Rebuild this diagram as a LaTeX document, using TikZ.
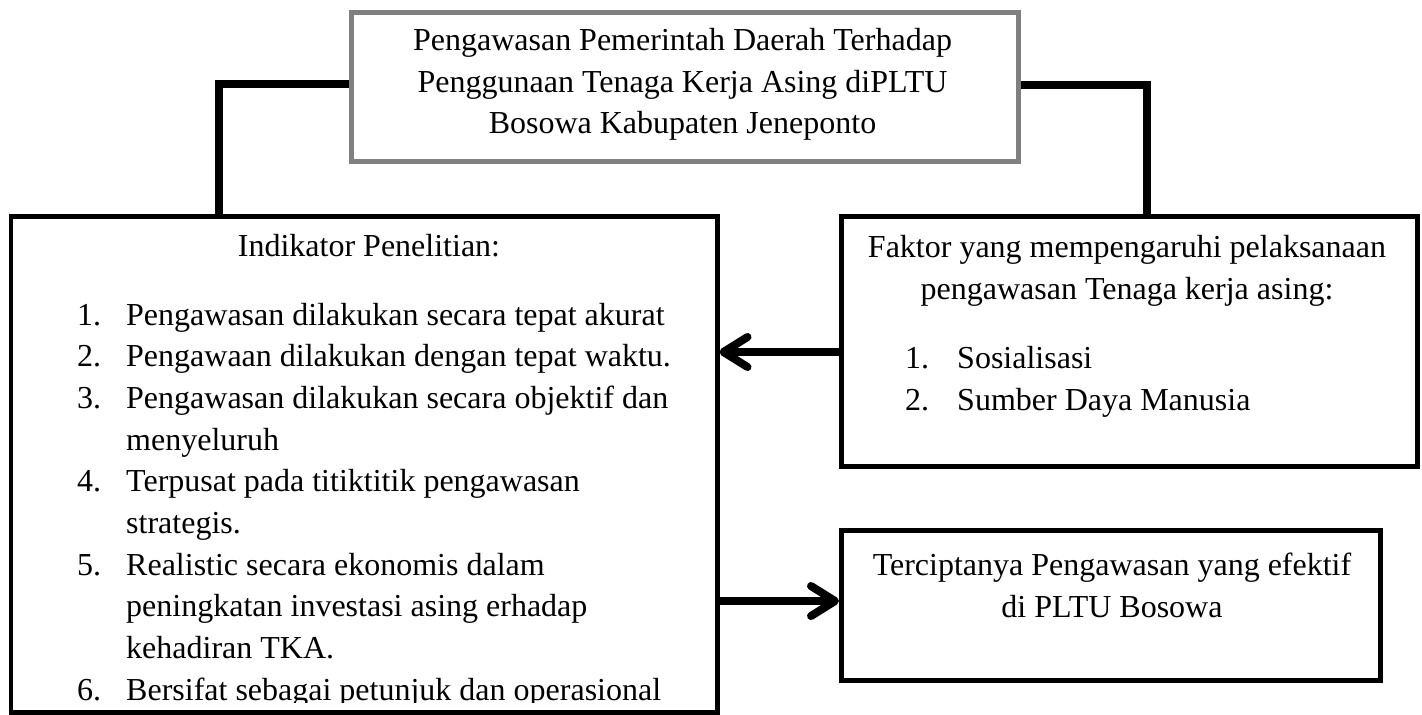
\documentclass[tikz,border=0pt]{standalone}
\usepackage{fontspec}
\setmainfont{Liberation Serif}
\usetikzlibrary{arrows.meta}
\definecolor{boxgray}{RGB}{128,128,128}
\begin{document}
\begin{tikzpicture}[x=1pt,y=-1pt,
  box/.style={draw=black, line width=4.5pt, inner sep=0pt, anchor=north west},
  titlebox/.style={draw=boxgray, line width=4.5pt, inner sep=0pt, anchor=north west},
  txt/.style={inner sep=0pt, font=\fontsize{32}{41.7}\selectfont},
  conn/.style={line width=8pt},
  arr/.style={line width=8pt, -{Straight Barb[length=24pt,width=30pt,round]}}
]
\useasboundingbox (0,0) rectangle (1422,715);
\fill[white] (0,0) rectangle (1422,715);

% boxes
\node[titlebox, minimum width=667pt, minimum height=149pt] (top) at (349,10) {};
\node[box, minimum width=706.5pt, minimum height=496pt] (ind) at (8.5,214) {};
\node[box, minimum width=576pt, minimum height=250pt] (fak) at (839,214) {};
\node[box, minimum width=539pt, minimum height=150pt] (res) at (839,528) {};

% title text
\node[txt, anchor=base] (t1) at (682.5,50.5) {Pengawasan Pemerintah Daerah Terhadap};
\node[txt, anchor=base] (t2) at (682.5,92.2) {Penggunaan Tenaga Kerja Asing diPLTU};
\node[txt, anchor=base] (t3) at (682.5,133.9) {Bosowa Kabupaten Jeneponto};

% left box text
\node[txt, anchor=base] (ih) at (369,256) {Indikator Penelitian:};
\begin{scope}
\clip (8.5,214) rectangle (715,702);
\foreach \t [count=\i from 0] in {
  Pengawasan dilakukan secara tepat akurat,
  Pengawaan dilakukan dengan tepat waktu.,
  Pengawasan dilakukan secara objektif dan,
  menyeluruh,
  Terpusat pada titiktitik pengawasan,
  strategis.,
  Realistic secara ekonomis dalam,
  peningkatan investasi asing erhadap,
  kehadiran TKA.,
  Bersifat sebagai petunjuk dan operasional}
  \node[txt, anchor=base west] (L\i) at (126,325+41.7*\i) {\t};
\foreach \n/\k in {1/0,2/1,3/2,4/4,5/6,6/9}
  \node[txt, anchor=base west] (N\n) at (77,325+41.7*\k) {\n.};
\end{scope}

% right box text
\node[txt, anchor=base] (f1) at (1127,257) {Faktor yang mempengaruhi pelaksanaan};
\node[txt, anchor=base] (f2) at (1127,299) {pengawasan Tenaga kerja asing:};
\node[txt, anchor=base west] (fn1) at (905,368) {1.};
\node[txt, anchor=base west] (fs1) at (957,368) {Sosialisasi};
\node[txt, anchor=base west] (fn2) at (905,410) {2.};
\node[txt, anchor=base west] (fs2) at (957,410) {Sumber Daya Manusia};

% result box text
\node[txt, anchor=base] (r1) at (1112,575) {Terciptanya Pengawasan yang efektif};
\node[txt, anchor=base] (r2) at (1112,617) {di PLTU Bosowa};

% connectors
\draw[conn] (top.west |- 0,83.5) -| (ind.north -| 218.5,0);
\draw[conn] (top.east |- 0,84.5) -| (fak.north -| 1147,0);
\draw[arr] (fak.west |- 0,352) -- (ind.east |- 0,352);
\draw[arr] (ind.east |- 0,601) -- (res.west |- 0,601);
\end{tikzpicture}
\end{document}
